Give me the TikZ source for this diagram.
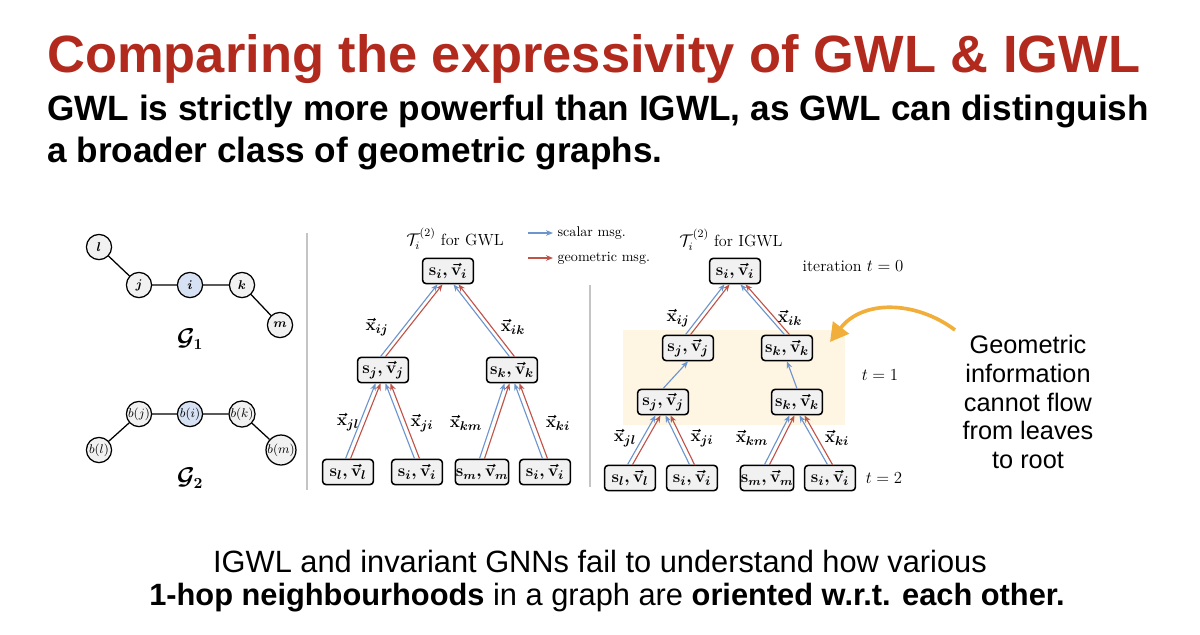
\documentclass[tikz,border=0pt]{standalone}
\usepackage{amsmath,amssymb}
\usepackage{fontspec}
\newfontfamily\slidefont{Liberation Sans}
\usetikzlibrary{calc,arrows.meta}
\definecolor{titlered}{RGB}{178,42,30}
\definecolor{scalblue}{RGB}{108,148,205}
\definecolor{geomred}{RGB}{192,82,72}
\definecolor{nodegray}{RGB}{241,241,241}
\definecolor{nodeblue}{RGB}{214,225,243}
\definecolor{sepgray}{RGB}{196,196,196}
\definecolor{yelbg}{RGB}{254,245,226}
\definecolor{arrorange}{RGB}{242,174,58}

\tikzset{
	gnode/.style={circle, draw, line width=0.9pt, fill=nodegray, minimum size=0.63cm, inner sep=0pt, font=\fontsize{9.5}{11}\selectfont},
	tbox/.style={draw, line width=1.1pt, rounded corners=2.5pt, fill=nodegray, minimum width=1.27cm, minimum height=0.63cm, inner sep=1pt, font=\fontsize{12.5}{15}\selectfont},
	widebox/.style={tbox, inner xsep=0.3pt, font=\fontsize{11.5}{14}\selectfont},
	scal/.style={draw=scalblue, line width=0.8pt, -{Stealth[length=5pt,width=4pt]}},
	geom/.style={draw=geomred, line width=0.8pt, -{Stealth[length=5pt,width=4pt]}},
	elab/.style={inner sep=1pt, font=\fontsize{13}{15}\selectfont},
	ttl/.style={inner sep=1pt, font=\fontsize{11.5}{13}\selectfont},
	note/.style={inner sep=1pt, font=\fontsize{10}{12}\selectfont},
	sepline/.style={draw=sepgray, line width=0.8pt},
	flowarr/.style={draw=arrorange, line width=2.6pt, -{Triangle[length=13pt,width=14pt]}},
}

% blue/red message pair from a child box to its parent box
\newcommand{\msgpair}[3]{%
	\draw[scal] ($(#1.north)+(-2.5,0)$) -- ($(#2.south)+(#3-2.5,0)$);
	\draw[geom] ($(#1.north)+(2.5,0)$) -- ($(#2.south)+(#3+2.5,0)$);}
\newcommand{\sv}[1]{$\boldsymbol{\mathbf{s}_{#1},\vec{\mathbf{v}}_{#1}}$}
\newcommand{\xv}[1]{$\boldsymbol{\vec{\mathbf{x}}_{#1}}$}

\begin{document}
\begin{tikzpicture}[x=0.025cm, y=-0.025cm]
	\useasboundingbox (0,0) rectangle (1200,634);
	%
	% heading
	\node[anchor=base west, inner sep=0, text=titlered, font=\slidefont\bfseries\fontsize{37.3}{40}\selectfont] (title) at (47,72) {Comparing the expressivity of GWL \& IGWL};
	\node[anchor=base west, inner sep=0, font=\slidefont\bfseries\fontsize{25}{28}\selectfont] (sub1) at (47,120) {GWL is strictly more powerful than IGWL, as GWL can distinguish};
	\node[anchor=base west, inner sep=0, font=\slidefont\bfseries\fontsize{25}{28}\selectfont] (sub2) at (47,162) {a broader class of geometric graphs.};
	%
	% graphs G1 and G2
	\node[gnode] (l) at (99,247) {$\boldsymbol{l}$};
	\node[gnode] (j) at (139,285) {$\boldsymbol{j}$};
	\node[gnode, fill=nodeblue] (i) at (190,285) {$\boldsymbol{i}$};
	\node[gnode] (k) at (242,285) {$\boldsymbol{k}$};
	\node[gnode] (m) at (280,325) {$\boldsymbol{m}$};
	\draw[line width=0.9pt] (l) -- (j) -- (i) -- (k) -- (m);
	\node[font=\fontsize{16}{18}\selectfont] (gone) at (190,339) {$\boldsymbol{\mathcal{G}_1}$};
	%
	\node[gnode] (bj) at (139,414) {$b(j)$};
	\node[gnode, fill=nodeblue] (bi) at (190,414) {$b(i)$};
	\node[gnode] (bk) at (242,414) {$b(k)$};
	\node[gnode] (bl) at (99,450) {$b(l)$};
	\node[gnode] (bm) at (281,450) {$b(m)$};
	\draw[line width=0.9pt] (bl) -- (bj) -- (bi) -- (bk) -- (bm);
	\node[font=\fontsize{16}{18}\selectfont] (gtwo) at (190,478) {$\boldsymbol{\mathcal{G}_2}$};
	%
	\draw[sepline] (307,233) -- (307,490);
	\draw[sepline] (590,285) -- (590,487);
	%
	% legend
	\coordinate (lgsa) at (528,233);
	\coordinate (lgsb) at (553,233);
	\coordinate (lgga) at (528,258);
	\coordinate (lggb) at (553,258);
	\draw[scal] (lgsa) -- (lgsb);
	\draw[geom] (lgga) -- (lggb);
	\node[note, anchor=west] (lgscal) at (556,233) {scalar msg.};
	\node[note, anchor=west] (lggeom) at (556,258) {geometric msg.};
	%
	% tree for GWL
	\node[ttl] (gtitle) at (455,239) {$\mathcal{T}_i^{(2)}$ for GWL};
	\node[tbox] (gr) at (448,271) {\sv{i}};
	\node[tbox] (gj) at (383,370) {\sv{j}};
	\node[tbox] (gk) at (512,370) {\sv{k}};
	\node[tbox] (gla) at (348,472) {\sv{l}};
	\node[tbox] (glb) at (417,472) {\sv{i}};
	\node[widebox] (glc) at (482,472) {\sv{m}};
	\node[tbox] (gld) at (545,472) {\sv{i}};
	\msgpair{gj}{gr}{-8}
	\msgpair{gk}{gr}{8}
	\msgpair{gla}{gj}{-5}
	\msgpair{glb}{gj}{5}
	\msgpair{glc}{gk}{-5}
	\msgpair{gld}{gk}{5}
	\node[elab] (gxij) at (377,327) {\xv{ij}};
	\node[elab] (gxik) at (513,327) {\xv{ik}};
	\node[elab] (gxjl) at (348,422) {\xv{jl}};
	\node[elab] (gxji) at (422,423) {\xv{ji}};
	\node[elab] (gxkm) at (466,423) {\xv{km}};
	\node[elab] (gxki) at (558,423) {\xv{ki}};
	%
	% tree for IGWL
	\fill[yelbg] (623,330) rectangle (845,425);
	\node[ttl] (ititle) at (731,240) {$\mathcal{T}_i^{(2)}$ for IGWL};
	\node[tbox] (ir) at (735,271) {\sv{i}};
	\node[tbox] (iaj) at (688,348) {\sv{j}};
	\node[tbox] (iak) at (787,348) {\sv{k}};
	\node[tbox] (ibj) at (663,402) {\sv{j}};
	\node[tbox] (ibk) at (797,402) {\sv{k}};
	\node[tbox] (ila) at (630,478) {\sv{l}};
	\node[tbox] (ilb) at (692,478) {\sv{i}};
	\node[widebox] (ilc) at (767,478) {\sv{m}};
	\node[tbox] (ild) at (830,478) {\sv{i}};
	\msgpair{iaj}{ir}{-8}
	\msgpair{iak}{ir}{8}
	\draw[scal] (ibj.north) -- (iaj.south);
	\draw[scal] (ibk.north) -- (iak.south);
	\msgpair{ila}{ibj}{-5}
	\msgpair{ilb}{ibj}{5}
	\msgpair{ilc}{ibk}{-5}
	\msgpair{ild}{ibk}{5}
	\node[elab] (ixij) at (678,318) {\xv{ij}};
	\node[elab] (ixik) at (790,318) {\xv{ik}};
	\node[elab] (ixjl) at (625,438) {\xv{jl}};
	\node[elab] (ixji) at (702,438) {\xv{ji}};
	\node[elab] (ixkm) at (752,438) {\xv{km}};
	\node[elab] (ixki) at (837,438) {\xv{ki}};
	\node[ttl] (tzero) at (853,266) {iteration $t=0$};
	\node[ttl] (tone) at (880,375) {$t=1$};
	\node[ttl] (ttwo) at (884,478) {$t=2$};
	%
	% remark on the right
	\node[align=center, font=\slidefont\fontsize{18}{20.3}\selectfont] (remark) at (1028,402) {Geometric\\information\\cannot flow\\from leaves\\to root};
	\coordinate (flowtail) at (955,330);
	\coordinate (flowhead) at (830,342);
	\draw[flowarr] (flowtail) .. controls (915,300) and (862,300) .. (flowhead);
	%
	% closing statement
	\node[anchor=base, inner sep=0, font=\slidefont\fontsize{21.9}{24}\selectfont] (bot1) at (600,572) {IGWL and invariant GNNs fail to understand how various};
	\node[anchor=base, inner sep=0, font=\slidefont\fontsize{21.9}{24}\selectfont] (bot2) at (607,605) {\textbf{1-hop neighbourhoods} in a graph are \textbf{oriented w.r.t. each other.}};
\end{tikzpicture}
\end{document}
